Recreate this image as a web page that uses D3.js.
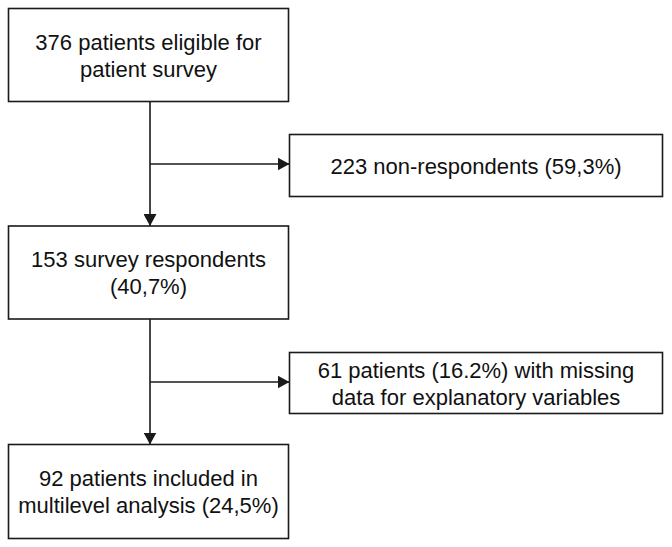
<!DOCTYPE html>
<html>
<head>
<meta charset="utf-8">
<script src="https://cdn.jsdelivr.net/npm/d3@7"></script>
<style>
html,body{margin:0;padding:0;background:#fff;}
svg{display:block;}
</style>
</head>
<body>
<svg id="chart" width="672" height="547"></svg>
<script>
// Flow chart content
const mainSteps = [
  ["376 patients eligible for", "patient survey"],
  ["153 survey respondents", "(40,7%)"],
  ["92 patients included in", "multilevel analysis (24,5%)"]
];
const sideSteps = [
  ["223 non-respondents (59,3%)"],
  ["61 patients (16.2%) with missing", "data for explanatory variables"]
];

const svg = d3.select("#chart");
const stroke = "#1a1a1a";
const fontSize = 22;
const lineH = 27;

// layout (pixel geometry)
const mainBoxes = [
  {x0: 8.5, x1: 288.5, y0: 8.5, y1: 101.5},
  {x0: 8.5, x1: 288.5, y0: 226, y1: 319},
  {x0: 8.5, x1: 288.5, y0: 444.5, y1: 538.5}
];
const sideBoxes = [
  {x0: 289.5, x1: 662.5, y0: 134.5, y1: 196.5},
  {x0: 289.5, x1: 662.5, y0: 352.5, y1: 413.5}
];
const spineX = 150;
const branchY = [164, 382];

const defs = svg.append("defs");
defs.append("marker")
  .attr("id", "arrow")
  .attr("viewBox", "0 0 12 13")
  .attr("refX", 12).attr("refY", 6.5)
  .attr("markerWidth", 12).attr("markerHeight", 13)
  .attr("markerUnits", "userSpaceOnUse")
  .attr("orient", "auto")
  .append("path")
  .attr("d", "M0,0 L12,6.5 L0,13 Z")
  .attr("fill", stroke);

function drawBox(b, lines) {
  const g = svg.append("g");
  g.append("rect")
    .attr("x", b.x0).attr("y", b.y0)
    .attr("width", b.x1 - b.x0).attr("height", b.y1 - b.y0)
    .attr("fill", "#fff").attr("stroke", stroke).attr("stroke-width", 1.6);
  const cx = (b.x0 + b.x1) / 2;
  const cy = (b.y0 + b.y1) / 2;
  const firstBase = cy + 8 - (lines.length - 1) * lineH / 2;
  g.selectAll("text").data(lines).join("text")
    .attr("x", cx)
    .attr("y", (d, i) => firstBase + i * lineH)
    .attr("text-anchor", "middle")
    .attr("font-family", "'Liberation Sans', Arial, sans-serif")
    .attr("font-size", fontSize)
    .attr("fill", "#111")
    .text(d => d);
}

// connectors
for (let i = 0; i < mainBoxes.length - 1; i++) {
  svg.append("line")
    .attr("x1", spineX).attr("y1", mainBoxes[i].y1)
    .attr("x2", spineX).attr("y2", mainBoxes[i + 1].y0)
    .attr("stroke", stroke).attr("stroke-width", 1.6)
    .attr("marker-end", "url(#arrow)");
  svg.append("line")
    .attr("x1", spineX).attr("y1", branchY[i])
    .attr("x2", sideBoxes[i].x0).attr("y2", branchY[i])
    .attr("stroke", stroke).attr("stroke-width", 1.6)
    .attr("marker-end", "url(#arrow)");
}

mainSteps.forEach((lines, i) => drawBox(mainBoxes[i], lines));
sideSteps.forEach((lines, i) => drawBox(sideBoxes[i], lines));
</script>
</body>
</html>
